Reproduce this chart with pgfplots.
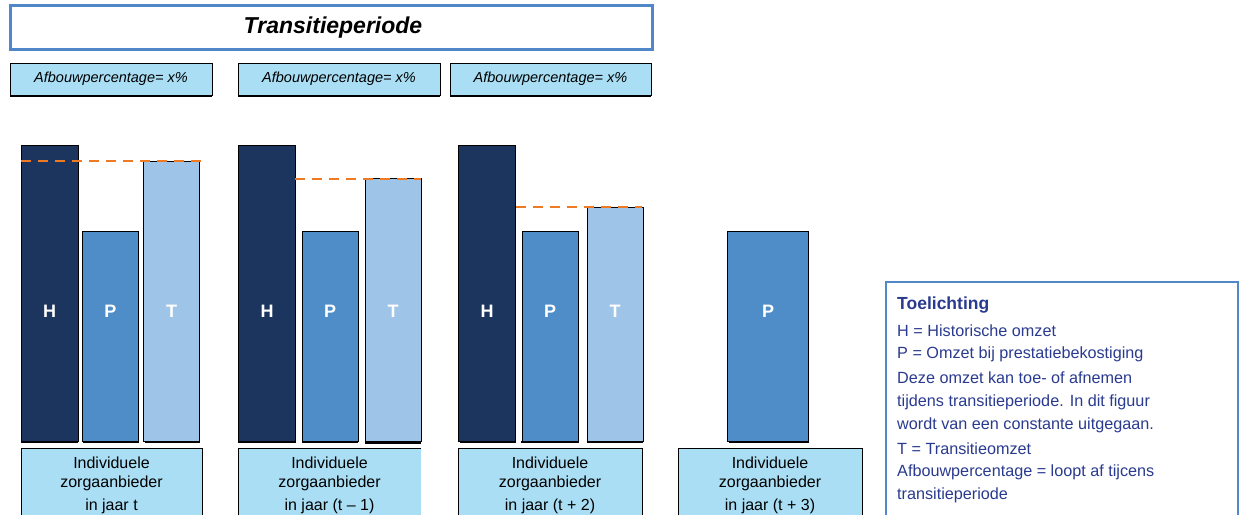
\documentclass[border=0pt]{standalone}
\usepackage{fontspec}
\setmainfont{Liberation Sans}
\usepackage{pgfplots}
\pgfplotsset{compat=1.18}
\definecolor{cH}{HTML}{1B355F}
\definecolor{cP}{HTML}{4F8DC9}
\definecolor{cT}{HTML}{9EC5E8}
\definecolor{cBox}{HTML}{A9DEF4}
\definecolor{cOr}{HTML}{EF7A24}
\definecolor{cBord}{HTML}{4F87C8}
\definecolor{cTxt}{HTML}{2A3B8F}
\begin{document}
\begin{tikzpicture}[
  barlbl/.style={text=white, font=\fontsize{18}{20}\selectfont\bfseries},
  sub/.style={font=\fontsize{14.5}{16}\selectfont\itshape},
  cat/.style={font=\fontsize{16}{18}\selectfont},
  expl/.style={anchor=west, inner sep=0pt, text=cTxt, font=\fontsize{16.2}{18}\selectfont},
]
\begin{axis}[
  scale only axis, width=1245pt, height=515pt,
  xmin=0, xmax=1245, ymin=-74, ymax=441,
  hide axis, clip=false,
  ybar, bar shift=0pt,
]
% H bars
\addplot[fill=cH, draw=black, line width=1pt, bar width=57] coordinates {(49.5,295) (267,295) (487,295)};
% P bars
\addplot[fill=cP, draw=black, line width=1pt, bar width=56] coordinates {(110.5,210) (330,210) (550,210)};
\addplot[fill=cP, draw=black, line width=1pt, bar width=81] coordinates {(768,210)};
% T bars
\addplot[fill=cT, draw=black, line width=1pt, bar width=56] coordinates {(171.5,279) (393,262) (615,233)};
% dashed lines
\addplot[ybar=false, sharp plot, cOr, line width=2.6pt, dash pattern=on 10pt off 7pt] coordinates {(21,280) (202,280)};
\addplot[ybar=false, sharp plot, cOr, line width=2.6pt, dash pattern=on 10pt off 7pt] coordinates {(295,262) (421,262)};
\addplot[ybar=false, sharp plot, cOr, line width=2.6pt, dash pattern=on 10pt off 7pt] coordinates {(516,234) (642,234)};
% bar shadows (thicker bottom edge)
\draw[black, line width=2.5pt] (axis cs:21,-1) -- (axis cs:78,-1);
\draw[black, line width=2.5pt] (axis cs:83,-1) -- (axis cs:139,-1);
\draw[black, line width=2.5pt] (axis cs:145,-1) -- (axis cs:200,-1);
\draw[black, line width=2.5pt] (axis cs:238,-1) -- (axis cs:296,-1);
\draw[black, line width=2.5pt] (axis cs:302,-1) -- (axis cs:358,-1);
\draw[black, line width=2.5pt] (axis cs:365,-2) -- (axis cs:421,-2);
\draw[black, line width=2.5pt] (axis cs:460,-1) -- (axis cs:516,-1);
\draw[black, line width=2.5pt] (axis cs:521,-1) -- (axis cs:579,-1);
\draw[black, line width=2.5pt] (axis cs:587,-1) -- (axis cs:643,-1);
\draw[black, line width=2.5pt] (axis cs:729,-1) -- (axis cs:809,-1);
% bar letters
\node[barlbl] at (axis cs:49.5,130) {H};
\node[barlbl] at (axis cs:110.5,130) {P};
\node[barlbl] at (axis cs:171.5,130) {T};
\node[barlbl] at (axis cs:267,130) {H};
\node[barlbl] at (axis cs:330,130) {P};
\node[barlbl] at (axis cs:393,130) {T};
\node[barlbl] at (axis cs:487,130) {H};
\node[barlbl] at (axis cs:550,130) {P};
\node[barlbl] at (axis cs:615,130) {T};
\node[barlbl] at (axis cs:768,130) {P};
% title box
\draw[cBord, line width=3pt, fill=white] (axis cs:10,435) rectangle (axis cs:652,391);
\node[font=\fontsize{23}{26}\selectfont\bfseries\itshape] at (axis cs:333,413) {Transitieperiode};
% subtitle boxes
\draw[black, line width=1pt, fill=cBox] (axis cs:10,377) rectangle (axis cs:212,345);
\draw[black, line width=2.5pt] (axis cs:10,345) -- (axis cs:212,345);
\node[sub] at (axis cs:111,362) {Afbouwpercentage= x\%};
\draw[black, line width=1pt, fill=cBox] (axis cs:238,377) rectangle (axis cs:440,345);
\draw[black, line width=2.5pt] (axis cs:238,345) -- (axis cs:440,345);
\node[sub] at (axis cs:339,362) {Afbouwpercentage= x\%};
\draw[black, line width=1pt, fill=cBox] (axis cs:450,377) rectangle (axis cs:651,345);
\draw[black, line width=2.5pt] (axis cs:450,345) -- (axis cs:651,345);
\node[sub] at (axis cs:550.5,362) {Afbouwpercentage= x\%};
% bottom category boxes
\fill[cBox] (axis cs:21,-74) rectangle (axis cs:202,-7);
\draw[black, line width=1pt] (axis cs:21,-74) -- (axis cs:21,-7) -- (axis cs:202,-7) -- (axis cs:202,-74);
\node[cat] at (axis cs:111.5,-22) {Individuele};
\node[cat] at (axis cs:111.5,-42) {zorgaanbieder};
\node[cat] at (axis cs:111.5,-65) {in jaar t};
\fill[cBox] (axis cs:238,-74) rectangle (axis cs:421,-7);
\draw[black, line width=1pt] (axis cs:238,-74) -- (axis cs:238,-7) -- (axis cs:421,-7);
\node[cat] at (axis cs:329.5,-22) {Individuele};
\node[cat] at (axis cs:329.5,-42) {zorgaanbieder};
\node[cat] at (axis cs:329.5,-65) {in jaar (t – 1)};
\fill[cBox] (axis cs:458,-74) rectangle (axis cs:642,-7);
\draw[black, line width=1pt] (axis cs:458,-74) -- (axis cs:458,-7) -- (axis cs:642,-7) -- (axis cs:642,-74);
\node[cat] at (axis cs:550,-22) {Individuele};
\node[cat] at (axis cs:550,-42) {zorgaanbieder};
\node[cat] at (axis cs:550,-65) {in jaar (t + 2)};
\fill[cBox] (axis cs:678,-74) rectangle (axis cs:862,-7);
\draw[black, line width=1pt] (axis cs:678,-74) -- (axis cs:678,-7) -- (axis cs:862,-7) -- (axis cs:862,-74);
\node[cat] at (axis cs:770,-22) {Individuele};
\node[cat] at (axis cs:770,-42) {zorgaanbieder};
\node[cat] at (axis cs:770,-65) {in jaar (t + 3)};
% Toelichting box
\fill[white] (axis cs:886,-74) rectangle (axis cs:1238,159);
\draw[cBord, line width=1.5pt] (axis cs:886,-74) -- (axis cs:886,159) -- (axis cs:1238,159) -- (axis cs:1238,-74);
\node[expl, font=\fontsize{17.5}{19}\selectfont\bfseries] at (axis cs:897,136) {Toelichting};
\node[expl] at (axis cs:897,110.3) {H = Historische omzet};
\node[expl] at (axis cs:897,87) {P = Omzet bij prestatiebekostiging};
\node[expl] at (axis cs:897,63) {Deze omzet kan toe- of afnemen};
\node[expl] at (axis cs:897,38.3) {tijdens transitieperiode. In dit figuur};
\node[expl] at (axis cs:897,16) {wordt van een constante uitgegaan.};
\node[expl] at (axis cs:897,-8) {T = Transitieomzet};
\node[expl] at (axis cs:897,-31) {Afbouwpercentage = loopt af tijcens};
\node[expl] at (axis cs:897,-54.7) {transitieperiode};
\end{axis}
\pgfresetboundingbox
\path (current axis.south west) rectangle (current axis.north east);
\end{tikzpicture}
\end{document}
